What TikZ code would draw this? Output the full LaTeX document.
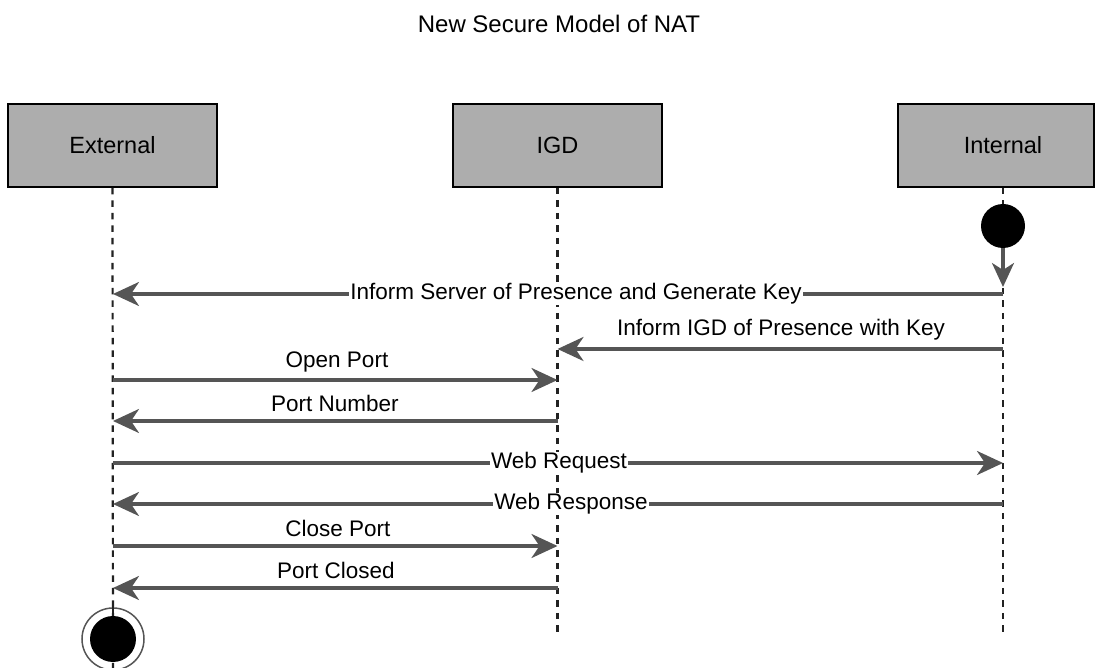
\documentclass[tikz,border=0pt]{standalone}
\usepackage{fontspec}
\setmainfont{Liberation Sans}
\usetikzlibrary{arrows.meta}
\definecolor{boxgray}{RGB}{173,173,173}
\definecolor{linegray}{RGB}{85,85,85}
\definecolor{lifegray}{RGB}{34,34,34}
\begin{document}
\begin{tikzpicture}[x=1pt,y=-1pt,
  actor/.style={draw=black, line width=1.6pt, fill=boxgray, minimum height=83pt, inner sep=0pt, font=\fontsize{23.5}{28}\selectfont},
  boxlbl/.style={inner sep=0pt, font=\fontsize{23.5}{28}\selectfont},
  lifeline/.style={draw=lifegray, line width=2.2pt, dash pattern=on 6.5pt off 6pt},
  msg/.style={draw=linegray, line width=3.2pt, -{Stealth[length=26pt,width=24pt,inset=8pt]}},
  lbl/.style={font=\fontsize{22.5}{27}\selectfont, inner sep=1pt},
  onlbl/.style={lbl, fill=white},
  titlefont/.style={font=\fontsize{24}{29}\selectfont}
]
\useasboundingbox (0,0) rectangle (1096,668);

\node[titlefont] (title) at (559,24) {New Secure Model of NAT};

\node[actor, minimum width=209pt] (ext) at (112.5,145.5) {External};
\node[actor, minimum width=209pt] (igd) at (557.5,145.5) {IGD};
\node[actor, minimum width=196pt] (int) at (996,145.5) {};
\node[boxlbl] (intlbl) at (1003,145.5) {Internal};

% lifeline end coordinates
\coordinate (extEnd) at (113,668);
\coordinate (igdEnd) at (557.5,632);
\coordinate (intEnd) at (1003,632);

\draw[lifeline] (ext.south) -- (extEnd);
\draw[lifeline] (igd.south) -- (igdEnd);
\draw[lifeline] (int.south -| intEnd) -- (intEnd);

% start and end states
\node[circle, fill=black, minimum size=44pt, inner sep=0pt] (start) at (1003,226) {};
\coordinate (startTip) at (1003,287);
\draw[msg, -{Stealth[length=24pt,width=22pt,inset=7pt]}] (start.south) -- (startTip);

\node[circle, draw=linegray, line width=1.5pt, minimum size=62pt, inner sep=0pt] (endring) at (113,639) {};
\node[circle, fill=black, minimum size=46pt, inner sep=0pt] (endstate) at (113,639) {};
\draw[lifeline] (endring.north) -- (endstate.north);

% message coordinates
\coordinate (e1) at (113,294);   \coordinate (n1) at (1003,294);
\coordinate (g2) at (557.5,349); \coordinate (n2) at (1003,349);
\coordinate (e3) at (113,380);   \coordinate (g3) at (557.5,380);
\coordinate (e4) at (113,421);   \coordinate (g4) at (557.5,421);
\coordinate (e5) at (113,463);   \coordinate (n5) at (1003,463);
\coordinate (e6) at (113,504);   \coordinate (n6) at (1003,504);
\coordinate (e7) at (113,546);   \coordinate (g7) at (557.5,546);
\coordinate (e8) at (113,588);   \coordinate (g8) at (557.5,588);

\draw[msg] (n1) -- (e1);
\node[onlbl] (l1) at (576,294) {Inform Server of Presence and Generate Key};

\draw[msg] (n2) -- (g2);
\node[lbl] (l2) at (781,330) {Inform IGD of Presence with Key};

\draw[msg] (e3) -- (g3);
\node[lbl] (l3) at (337,362) {Open Port};

\draw[msg] (g4) -- (e4);
\node[lbl] (l4) at (335,403) {Port Number};

\draw[msg] (e5) -- (n5);
\node[onlbl] (l5) at (559,463) {Web Request};

\draw[msg] (n6) -- (e6);
\node[onlbl] (l6) at (571,504) {Web Response};

\draw[msg] (e7) -- (g7);
\node[lbl] (l7) at (338,528) {Close Port};

\draw[msg] (g8) -- (e8);
\node[lbl] (l8) at (336,570) {Port Closed};
\end{tikzpicture}
\end{document}
